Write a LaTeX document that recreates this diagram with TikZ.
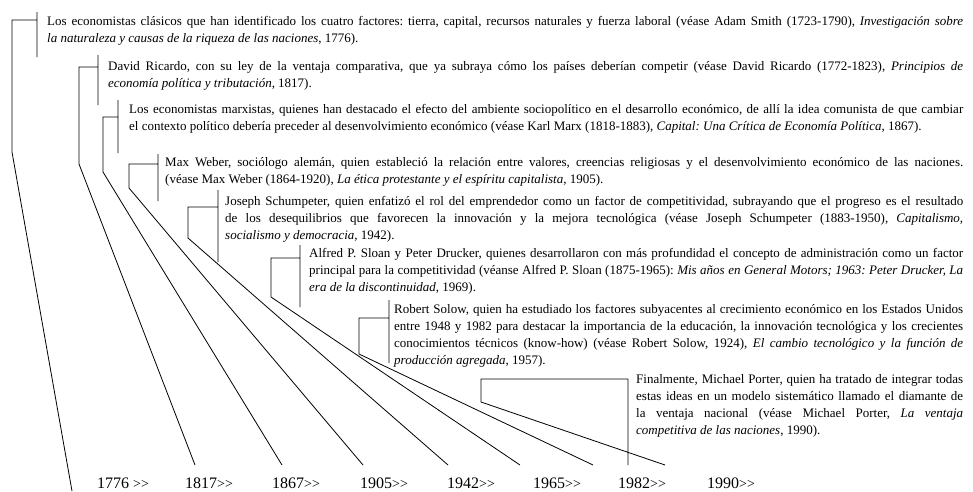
\documentclass[tikz,border=0pt]{standalone}
\usepackage{fontspec}
\setmainfont{Liberation Serif}
\newfontfamily\yearfont{Liberation Serif}
\usetikzlibrary{positioning}

\tikzset{
  entry/.style={anchor=base west, inner sep=0pt, align=justify,
    font=\fontsize{13}{17}\selectfont\frenchspacing},
  yearlabel/.style={anchor=base west, inner sep=0pt, font=\yearfont\fontsize{16}{16}\selectfont},
  link/.style={draw=black, line width=0.8pt},
}
\newcommand{\fwd}{{\fontsize{14}{14}\selectfont>\kern0pt>}}

\begin{document}
\begin{tikzpicture}[x=1pt,y=-1pt]
  \useasboundingbox (0,0) rectangle (973,491);
  % the eight schools
  \node[entry, text width=916pt] (smith) at (47,25) {Los economistas clásicos que han identificado los cuatro factores: tierra, capital, recursos naturales y fuerza laboral (véase Adam Smith (1723-1790), \textit{Investigación sobre}\linebreak \textit{la naturaleza y causas de la riqueza de las naciones}, 1776).};
  \node[entry, text width=855pt] (ricardo) at (108,70) {David Ricardo, con su ley de la ventaja comparativa, que ya subraya cómo los países deberían competir (véase David Ricardo (1772-1823), \textit{Principios de}\linebreak \textit{economía política y tributación}, 1817).};
  \node[entry, text width=834pt] (marx) at (129,113) {Los economistas marxistas, quienes han destacado el efecto del ambiente sociopolítico en el desarrollo económico, de allí la idea comunista de que cambiar\linebreak el contexto político debería preceder al desenvolvimiento económico (véase Karl Marx (1818-1883), \textit{Capital: Una Crítica de Economía Política}, 1867).};
  \node[entry, text width=798pt] (weber) at (165,166) {Max Weber, sociólogo alemán, quien estableció la relación entre valores, creencias religiosas y el desenvolvimiento económico de las naciones.\linebreak (véase Max Weber (1864-1920), \textit{La ética protestante y el espíritu capitalista}, 1905).};
  \node[entry, text width=738pt] (schump) at (225,205) {Joseph Schumpeter, quien enfatizó el rol del emprendedor como un factor de competitividad, subrayando que el progreso es el resultado\linebreak de los desequilibrios que favorecen la innovación y la mejora tecnológica (véase Joseph Schumpeter (1883-1950), \textit{Capitalismo,}\linebreak \textit{socialismo y democracia}, 1942).};
  \node[entry, text width=654pt] (sloan) at (309,257) {Alfred P. Sloan y Peter Drucker, quienes desarrollaron con más profundidad el concepto de administración como un factor\linebreak principal para la competitividad (véanse Alfred P. Sloan (1875-1965): \textit{Mis años en General Motors; 1963: Peter Drucker, La}\linebreak \textit{era de la discontinuidad}, 1969).};
  \node[entry, text width=569pt] (solow) at (394,313) {Robert Solow, quien ha estudiado los factores subyacentes al crecimiento económico en los Estados Unidos\linebreak entre 1948 y 1982 para destacar la importancia de la educación, la innovación tecnológica y los crecientes\linebreak conocimientos técnicos (know-how) (véase Robert Solow, 1924), \textit{El cambio tecnológico y la función de}\linebreak \textit{producción agregada}, 1957).};
  \node[entry, text width=327pt] (porter) at (636,383) {Finalmente, Michael Porter, quien ha tratado de integrar todas\linebreak estas ideas en un modelo sistemático llamado el diamante de\linebreak la ventaja nacional (véase Michael Porter, \textit{La ventaja}\linebreak \textit{competitiva de las naciones}, 1990).};
  % time axis
  \node[yearlabel] (y1776) at (97,488) {1776 \fwd};
  \node[yearlabel] (y1817) at (185,488) {1817\fwd};
  \node[yearlabel] (y1867) at (272,488) {1867\fwd};
  \node[yearlabel] (y1905) at (360,488) {1905\fwd};
  \node[yearlabel] (y1942) at (447,488) {1942\fwd};
  \node[yearlabel] (y1965) at (533,488) {1965\fwd};
  \node[yearlabel] (y1982) at (618,488) {1982\fwd};
  \node[yearlabel] (y1990) at (707,488) {1990\fwd};
  \coordinate (e1776) at (72,491);
  \coordinate (e1817) at (195,465);
  \coordinate (e1867) at (282,465);
  \coordinate (e1905) at (363,465);
  \coordinate (e1942) at (448,465);
  \coordinate (e1965) at (520,465);
  \coordinate (e1982) at (593,465);
  \coordinate (e1990) at (665,465);
  % brackets and their lines down to the years
  \foreach \bx/\bt/\bb/\ty/\cx/\cy/\e in {37/12/57/20/12/152/e1776, 98/55/105/67/79/164/e1817,
      118/100/153/117/103/172/e1867, 158/154/201/164/129/188/e1905, 218/190/262/207/188/238/e1942,
      300/245/307/258/271/297/e1965, 389/300/363/318/359/354/e1982, 628/379/465/379/481/402/e1990}
    \draw[link] (\bx,\bt) -- (\bx,\bb) (\bx,\ty) -| (\cx,\cy) -- (\e);
\end{tikzpicture}
\end{document}
